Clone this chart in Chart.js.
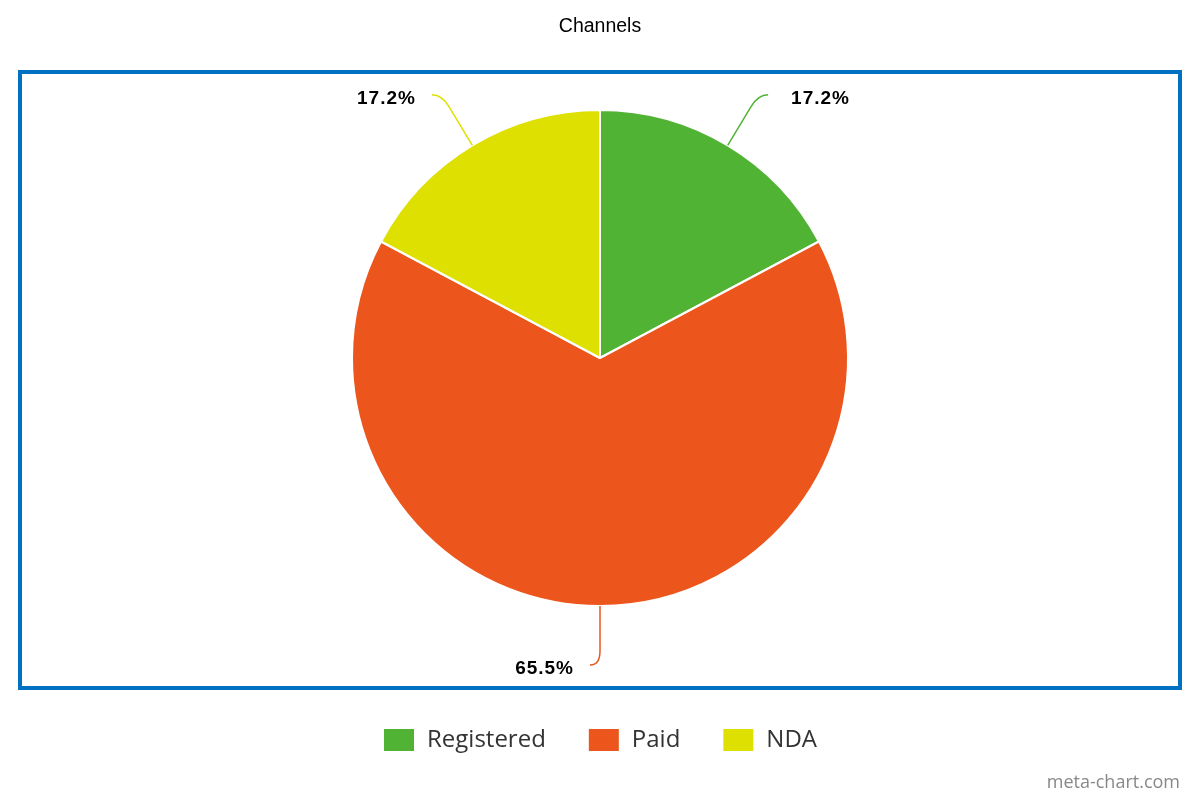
<!DOCTYPE html>
<html>
<head>
<meta charset="utf-8">
<title>Channels</title>
<script src="https://cdn.jsdelivr.net/npm/chart.js@4"></script>
<style>
  html, body { margin: 0; padding: 0; background: #fff; }
  #wrap { width: 1200px; height: 800px; }
</style>
</head>
<body>
<div id="wrap"><canvas id="pieChart" width="1200" height="800"></canvas></div>
<script>
const LABELS = ['Registered', 'Paid', 'NDA'];
const VALUES = [17.2, 65.5, 17.2];
const COLORS = ['#51b334', '#ec561d', '#dde000'];
const TITLE = 'Channels';

// title, blue frame, slice labels with leader lines, watermark
const decorPlugin = {
	id: 'decor',
	beforeDraw(chart) {
		let ctx = chart.ctx;
		ctx.save();
		ctx.strokeStyle = '#0070c0';
		ctx.lineWidth = 4;
		ctx.strokeRect(20, 72, 1160, 616);
		ctx.fillStyle = '#000';
		ctx.font = '19.5px "Liberation Sans", Arial, sans-serif';
		ctx.textAlign = 'center';
		ctx.textBaseline = 'middle';
		ctx.fillText(TITLE, 600, 27);
		ctx.restore();
	},
	afterDraw(chart) {
		let ctx = chart.ctx;
		let meta = chart.getDatasetMeta(0);
		ctx.save();
		meta.data.forEach(function(arc, i) {
			let mid = (arc.startAngle + arc.endAngle) / 2;
			let cx = arc.x, cy = arc.y, r = arc.outerRadius;
			let dx = Math.cos(mid), dy = Math.sin(mid);
			let side = dx > 0.001 ? 1 : -1;
			let p1 = [cx + r * dx, cy + r * dy];
			let p2 = [cx + (r + 45) * dx, cy + (r + 45) * dy];
			let ctrl = [cx + (r + 59) * dx, cy + (r + 59) * dy];
			let end = [ctrl[0] + side * 10, ctrl[1]];
			ctx.strokeStyle = COLORS[i];
			ctx.lineWidth = 1.5;
			ctx.beginPath();
			ctx.moveTo(p1[0], p1[1]);
			ctx.lineTo(p2[0], p2[1]);
			ctx.quadraticCurveTo(ctrl[0], ctrl[1], end[0], end[1]);
			ctx.stroke();
			ctx.fillStyle = '#000';
			ctx.font = 'bold 19px "Liberation Sans", Arial, sans-serif';
			ctx.letterSpacing = '1px';
			ctx.textBaseline = 'middle';
			ctx.textAlign = side > 0 ? 'left' : 'right';
			let gap = side > 0 ? 23 : 16;
			ctx.fillText(VALUES[i].toFixed(1) + '%', end[0] + side * gap, end[1] + 4);
		});
		ctx.letterSpacing = '0px';
		ctx.fillStyle = '#888';
		ctx.font = '18px "Open Sans", sans-serif';
		ctx.textAlign = 'right';
		ctx.textBaseline = 'middle';
		ctx.fillText('meta-chart.com', 1180, 783);
		ctx.restore();
	}
};

var chart = new Chart(document.getElementById('pieChart').getContext('2d'), {
	type: 'pie',
	data: {
		labels: LABELS,
		datasets: [{
			data: VALUES,
			backgroundColor: COLORS,
			borderColor: '#ffffff',
			borderWidth: 2
		}]
	},
	options: {
		responsive: false,
		animation: false,
		radius: 248,
		layout: { padding: { top: 30, bottom: 38, left: 20, right: 20 } },
		plugins: {
			title: { display: false },
			legend: {
				position: 'bottom',
				labels: {
					boxWidth: 32,
					boxHeight: 24,
					padding: 42,
					color: '#333',
					font: { family: '"Open Sans", sans-serif', size: 24 }
				}
			},
			tooltip: { enabled: false }
		}
	},
	plugins: [decorPlugin]
});
</script>
</body>
</html>
